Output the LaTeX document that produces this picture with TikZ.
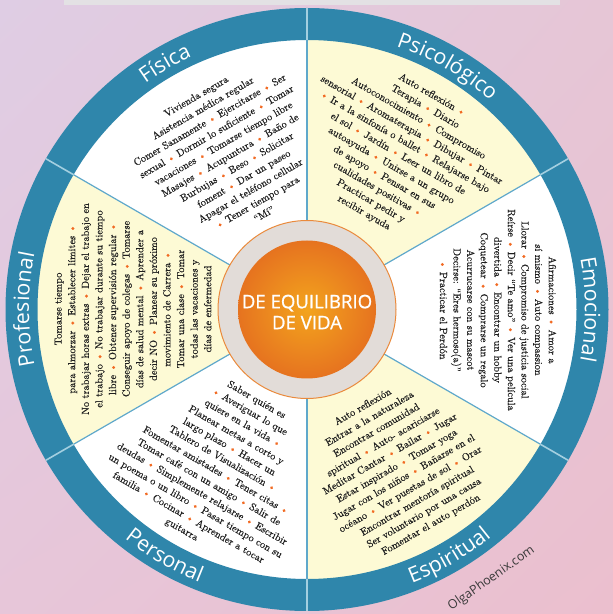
\documentclass[tikz,border=0pt]{standalone}
\usepackage{fontspec}
\setsansfont{Open Sans}
\newfontfamily\centerfont{Open Sans}[FakeBold=1]
\newfontfamily\bodyfont{lmroman10-regular}[Extension=.otf, FakeBold=0.45]
\usetikzlibrary{decorations.text,calc,shadings}
\definecolor{ringblue}{HTML}{2F86AB}
\definecolor{sectoryellow}{HTML}{FDFAD5}
\definecolor{bulletorange}{HTML}{F26A22}
\definecolor{divblue}{HTML}{5FA8CB}
\definecolor{ringline}{HTML}{A3CFE0}
\definecolor{centergrey}{HTML}{E2DCD8}
\definecolor{orangeborder}{HTML}{EA8A3C}
\definecolor{orangein}{HTML}{F3A41E}
\definecolor{orangeout}{HTML}{E6731F}
\definecolor{bgtl}{HTML}{DFCDE4}
\definecolor{bgtr}{HTML}{E6C6D6}
\definecolor{bgbl}{HTML}{E7C6D9}
\definecolor{bgbr}{HTML}{EBBFCE}
\definecolor{stripgrey}{HTML}{E3E1E4}
\definecolor{webgrey}{HTML}{3A3A3A}
\newcommand{\bu}{{\color{bulletorange}\textbullet}}
\newcommand{\labfont}{\sffamily\fontsize{21.3}{21.3}\selectfont}
\begin{document}
\begin{tikzpicture}[x=1pt,y=1pt,
  sectortext/.style={align=center, font=\bodyfont\fontsize{10.3}{13.6}\selectfont, text=black!88, inner sep=0pt},
  ringlabel/.style={decorate, decoration={text along path, text align=center, text color=white}},
  divline/.style={draw=divblue, line width=1.2pt},
  ringdiv/.style={draw=ringline, line width=1.6pt}]
\useasboundingbox (0,0) rectangle (613,614);
\shade[upper left=bgtl, upper right=bgtr, lower left=bgbl, lower right=bgbr] (0,0) rectangle (613,614);
\fill[stripgrey] (64,608.5) rectangle (560,614);
\coordinate (c) at (307,304.5);
% sectors
\fill[white] (c) circle[radius=272pt];
\fill[sectoryellow] (c) -- ++(90:272pt) arc[start angle=90,end angle=30,radius=272pt] -- cycle;
\fill[sectoryellow] (c) -- ++(-90:272pt) arc[start angle=-90,end angle=-30,radius=272pt] -- cycle;
\fill[sectoryellow] (c) -- ++(150:272pt) arc[start angle=150,end angle=210,radius=272pt] -- cycle;
% ring
\fill[ringblue, even odd rule] (c) circle[radius=301.5pt] (c) circle[radius=269.5pt];
\foreach \a in {90,30,-30,-90,-150,150}{
  \draw[divline] ($(c)+(\a:89pt)$) -- ($(c)+(\a:269.5pt)$);
  \draw[ringdiv] ($(c)+(\a:269.5pt)$) -- ($(c)+(\a:301.5pt)$);
}
% centre
\fill[centergrey, draw=orangeborder, line width=1pt] (c) circle[radius=89pt];
\shade[inner color=orangein, outer color=orangeout] (c) circle[radius=69pt];
\node[font=\centerfont\fontsize{18.6}{21}\selectfont, text=white, align=center, inner sep=0pt] (centre) at (307,302) {DE EQUILIBRIO\\DE VIDA};
% ring labels
\path[ringlabel, decoration={text={|\labfont|Física}}] ($(c)+(150:278pt)$) arc[start angle=150,end angle=90,radius=278pt];
\path[ringlabel, decoration={text={|\labfont|Psicológico}}] ($(c)+(90:278pt)$) arc[start angle=90,end angle=30,radius=278pt];
\path[ringlabel, decoration={text={|\labfont|Emocional}}] ($(c)+(30:278pt)$) arc[start angle=30,end angle=-30,radius=278pt];
\path[ringlabel, decoration={text={|\labfont|Profesional}}] ($(c)+(210:278pt)$) arc[start angle=210,end angle=150,radius=278pt];
\path[ringlabel, decoration={text={|\labfont|Personal}}] ($(c)+(210:293pt)$) arc[start angle=210,end angle=270,radius=293pt];
\path[ringlabel, decoration={text={|\labfont|Espiritual}}] ($(c)+(270:293pt)$) arc[start angle=270,end angle=330,radius=293pt];
% sector texts
\node[sectortext, rotate=30] (fisica) at (230,459) {Vivienda segura\\
Asistencia médica regular\\
Comer Sanamente \bu{} Ejercitarse \bu{} Ser\\
sexual \bu{} Dormir lo suficiente \bu{} Tomar\\
vacaciones \bu{} Tomarse tiempo libre\\
Masajes \bu{} Acupuntura \bu{} Baño de\\
Burbujas \bu{} Beso \bu{} Solicitar\\
foment \bu{} Dar un paseo\\
Apagar el teléfono cellular\\
\bu{} Tener tiempo para\\
“Mí”};
\node[sectortext, rotate=-30] (psico) at (398,460) {Auto reflexión \bu\\
Terapia \bu{} Diario\\
Autoconocimiento \bu{} Compromiso\\
sensorial \bu{} Aromaterapia \bu{} Dibujar \bu{} Pintar\\
\bu{} Ir a la sinfonía o ballet \bu{} Relajarse bajo\\
el sol \bu{} Jardín \bu{} Leer un libro de\\
autoayuda \bu{} Unirse a un grupo\\
de apoyo \bu{} Pensar en sus\\
cualidades positivas \bu\\
Practicar pedir y\\
recibir ayuda};
\node[sectortext, rotate=-90] (emocional) at (498,304) {Afirmaciones \bu{} Amor a\\
sí mismo \bu{} Auto compassion\\
Llorar \bu{} Compromiso de justicia social\\
Reírse \bu{} Decir “Te amo” \bu{} Ver una película\\
divertida \bu{} Encontrar un hobby\\
Coquetear \bu{} Comprarse un regalo\\
Acurrucarse con su mascot\\
Decirse: “Eres hermoso(a)”\\
\bu{} Practicar el Perdón};
\node[sectortext, rotate=30] (espiritual) at (397,148) {Auto reflexión\\
Entrar a la naturaleza\\
Encontrar comunidad\\
spiritual \bu{} Auto- acariciarse\\
Meditar Cantar \bu{} Bailar \bu{} Jugar\\
Estar inspirado \bu{} Tomar yoga\\
Jugar con los niños \bu{} Bañarse en el\\
océano \bu{} Ver puestas de sol \bu{} Orar\\
Encontrar mentoría spiritual\\
Ser voluntario por una causa\\
Fomentar el auto perdón};
\node[sectortext, rotate=-30] (personal) at (219,149) {Saber quién es\\
\bu{} Averiguar lo que\\
quiere en la vida \bu\\
Planear metas a corto y\\
largo plazo \bu{} Hacer un\\
Tablero de Visualización \bu\\
Fomentar amistades \bu{} Tener citas \bu\\
Tomar café con un amigo \bu{} Salir de\\
deudas \bu{} Simplemente relajarse \bu{} Escribir\\
un poema o un libro \bu{} Pasar tiempo con su\\
familia \bu{} Cocinar \bu{} Aprender a tocar\\
guitarra};
\node[sectortext, rotate=90] (profesional) at (133,305) {Tomarse tiempo\\
para almorzar \bu{} Establecer límites \bu\\
No trabajar horas extras \bu{} Dejar el trabajo en\\
el trabajo \bu{} No trabajar durante su tiempo\\
libre \bu{} Obtener supervisión regular \bu\\
Conseguir apoyo de colegas \bu{} Tomarse\\
días de salud mental \bu{} Aprender a\\
decir NO \bu{} Planear su próximo\\
movimiento de Carrera \bu\\
Tomar una clase \bu{} Tomar\\
todas las vacaciones y\\
días de enfermedad};
\node[font=\sffamily\fontsize{12.5}{14}\selectfont, text=webgrey, rotate=35, inner sep=0pt] (web) at (491.5,35.5) {OlgaPhoenix.com};
\end{tikzpicture}
\end{document}
